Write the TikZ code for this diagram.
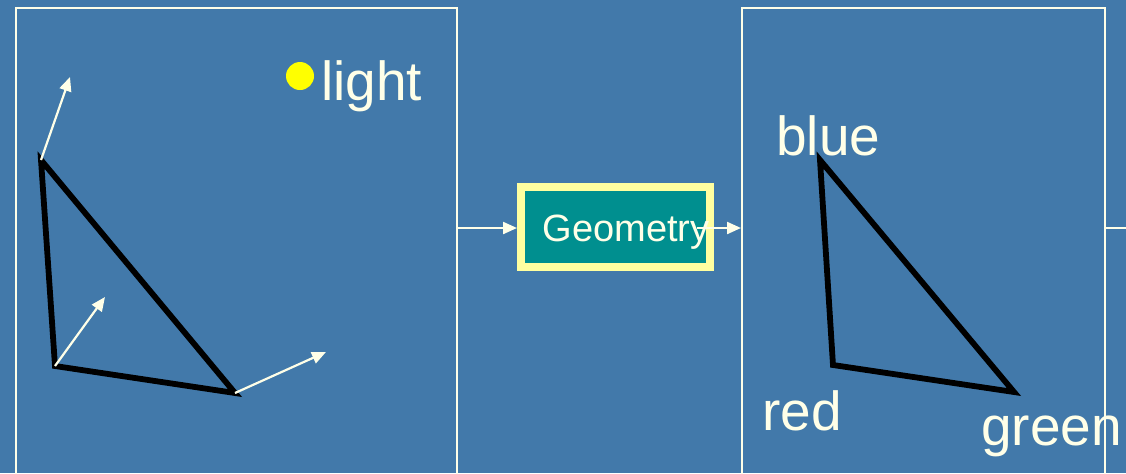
\documentclass[tikz,border=0pt]{standalone}
\usepackage{fontspec}
\setmainfont{Liberation Sans}
\usetikzlibrary{arrows.meta,positioning}
\definecolor{slidebg}{RGB}{66,121,170}
\definecolor{chalk}{RGB}{255,255,232}
\definecolor{geoteal}{RGB}{0,143,143}
\definecolor{georim}{RGB}{255,255,160}
\definecolor{lampyellow}{RGB}{255,255,0}

\tikzset{
  frame/.style={draw=chalk, line width=1.2pt, anchor=north west, inner sep=0pt},
  flow/.style={draw=chalk, line width=1.1pt, -{Triangle[length=7pt,width=6pt]}},
  normal/.style={draw=chalk, line width=1.1pt, -{Triangle[length=7pt,width=6pt]}},
  tri/.style={draw=black, line width=2.9pt, line join=miter},
  word/.style={text=chalk, font=\fontsize{27.5pt}{27.5pt}\selectfont, anchor=base west, inner sep=0pt},
  geobox/.style={fill=geoteal, draw=georim, line width=4pt, minimum width=94.5pt, minimum height=40pt, inner sep=0pt},
}

\begin{document}
\begin{tikzpicture}[x=0.5pt, y=-0.5pt]
        % Fundo
        \fill[slidebg] (0,0) rectangle (1126,473);
        \useasboundingbox (0,0) rectangle (1126,473);
        \clip (0,0) rectangle (1126,473);

        % Quadros
        \node (before) [frame, minimum width=220.5pt, minimum height=260pt] at (15,7) {};
        \node (after) [frame, minimum width=181.5pt, minimum height=260pt] at (741,7) {};

        % Caixa Geometry
        \node (geo) [geobox] at (615.5,227) {};
        \node (geotext) [text=chalk, font=\fontsize{19pt}{19pt}\selectfont, inner sep=0pt] at (626,232) {Geometry};

        % Setas entre os quadros
        \coordinate (geoout) at (697,228);
        \coordinate (rightend) at (1126,228);
        \draw[flow] (before.east |- geoout) -- (geo.west |- geoout);
        \draw[flow] (geoout) -- (after.west |- geoout);
        \draw[draw=chalk, line width=1.2pt] (after.east |- geoout) -- (rightend);

        % Triangulo com normais
        \coordinate (a) at (41,160);
        \coordinate (b) at (55,366);
        \coordinate (c) at (235,393);
        \draw[tri] (a) -- (b) -- (c) -- cycle;
        \coordinate (na) at (70,77);
        \coordinate (nb) at (105,297);
        \coordinate (nc) at (326,352);
        \draw[normal] (a) -- (na);
        \draw[normal] (b) -- (nb);
        \draw[normal] (c) -- (nc);

        % Luz
        \fill[lampyellow] (300,76) circle (7pt) coordinate (lamp);
        \node (light) [word] at (321,100) {light};

        % Triangulo com cores
        \coordinate (blue) at (820,160);
        \coordinate (red) at (833,365);
        \coordinate (green) at (1014,392);
        \draw[tri] (blue) -- (red) -- (green) -- cycle;
        \node (bluetext) [word] at (776,155) {blue};
        \node (redtext) [word] at (762,430) {red};
        \node (greentext) [word] at (981,445) {green};
    \end{tikzpicture}
\end{document}
